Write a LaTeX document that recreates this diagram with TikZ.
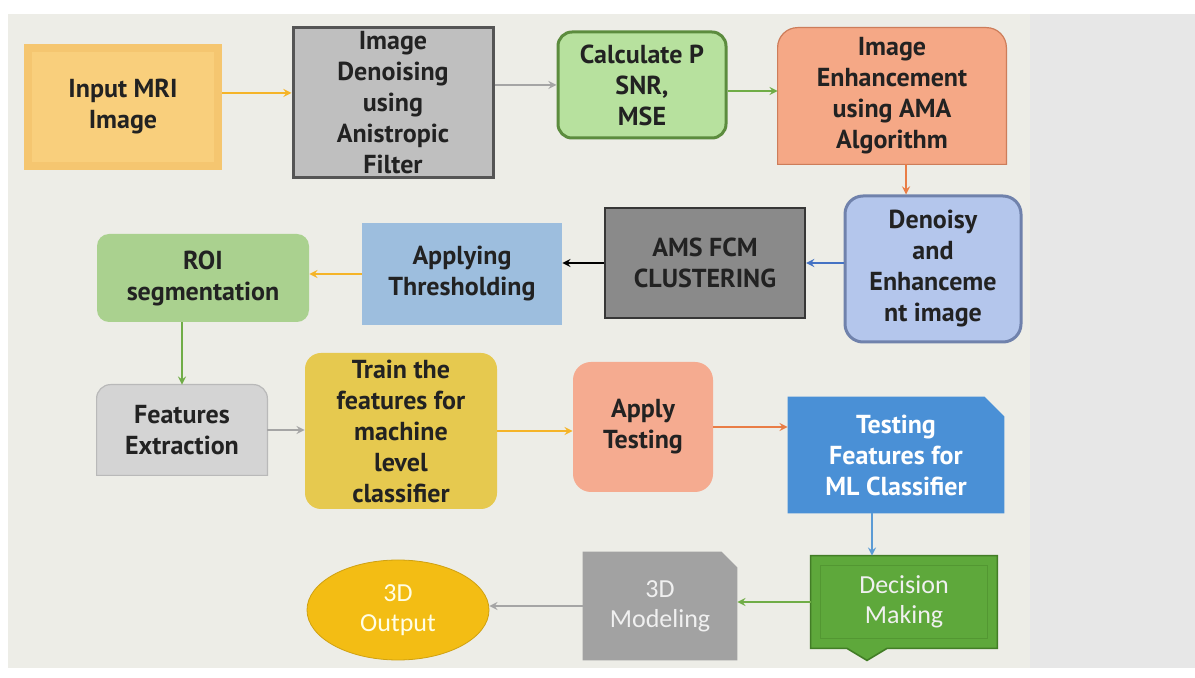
\documentclass[tikz,border=0pt]{standalone}
\usepackage{fontspec}
\setmainfont{PT Sans}
\newfontfamily\calfont{Carlito}
\usetikzlibrary{shapes.geometric,backgrounds}

\definecolor{panelbg}{RGB}{237,237,231}
\definecolor{sidebg}{RGB}{231,231,231}
\definecolor{txt}{RGB}{34,34,34}
\definecolor{inpfill}{RGB}{249,207,124}
\definecolor{inpedge}{RGB}{245,198,112}
\definecolor{denfill}{RGB}{191,191,191}
\definecolor{denline}{RGB}{85,85,85}
\definecolor{calcfill}{RGB}{183,225,158}
\definecolor{calcline}{RGB}{92,140,62}
\definecolor{enhfill}{RGB}{245,168,134}
\definecolor{enhline}{RGB}{205,125,90}
\definecolor{dnsfill}{RGB}{180,198,236}
\definecolor{dnsline}{RGB}{112,130,172}
\definecolor{amsfill}{RGB}{138,138,138}
\definecolor{amsline}{RGB}{55,55,55}
\definecolor{thrfill}{RGB}{157,190,222}
\definecolor{roifill}{RGB}{170,209,143}
\definecolor{feafill}{RGB}{212,212,212}
\definecolor{fealine}{RGB}{185,185,185}
\definecolor{trnfill}{RGB}{230,201,79}
\definecolor{appfill}{RGB}{245,171,144}
\definecolor{tstfill}{RGB}{74,144,214}
\definecolor{decfill}{RGB}{94,168,59}
\definecolor{decline}{RGB}{66,125,38}
\definecolor{mdlfill}{RGB}{162,162,162}
\definecolor{outfill}{RGB}{243,189,20}
\definecolor{arrorange}{RGB}{245,180,40}
\definecolor{arrgray}{RGB}{165,165,165}
\definecolor{arrgreen}{RGB}{112,173,71}
\definecolor{arrsalmon}{RGB}{233,125,70}
\definecolor{arrblue}{RGB}{68,114,196}
\definecolor{arrlblue}{RGB}{91,155,213}

\begin{document}
\begin{tikzpicture}[x=0.5pt,y=-0.5pt,
  box/.style={align=center,inner sep=0pt,text=txt,
    font=\bfseries\fontsize{13}{15.5}\selectfont},
  wbox/.style={align=center,inner sep=0pt,text=white!94!black,
    font=\calfont\fontsize{13}{15}\selectfont}]
  \useasboundingbox (0,0) rectangle (1195,678);
  \begin{scope}[on background layer]
    \fill[panelbg] (8,14) rectangle (1030,668);
    \fill[sidebg] (1030,14) rectangle (1195,668);
  \end{scope}

  % first row
  \node[box,minimum width=99pt,minimum height=63pt] (inp) at (123,107) {Input MRI\\Image};
  \node[box,fill=denfill,draw=denline,line width=1.5pt,minimum width=100pt,minimum height=75pt] (den) at (393,103)
    {Image\\Denoising\\using\\Anistropic\\Filter};
  \node[box,fill=calcfill,draw=calcline,line width=1.5pt,rounded corners=7pt,minimum width=84pt,minimum height=53pt] (calc) at (642,85)
    {Calculate P\\SNR,\\MSE};
  \node[box,minimum width=114pt,minimum height=68pt] (enh) at (892,96)
    {Image\\Enhancement\\using AMA\\Algorithm};

  % second row
  \node[box,fill=dnsfill,draw=dnsline,line width=1.5pt,rounded corners=9pt,minimum width=88pt,minimum height=73pt] (dns) at (933,269)
    {Denoisy\\and\\Enhanceme\\nt image};
  \node[box,fill=amsfill,draw=amsline,line width=1.2pt,minimum width=100pt,minimum height=55pt] (ams) at (705,263)
    {AMS FCM\\CLUSTERING};
  \node[box,fill=thrfill,minimum width=100pt,minimum height=51pt] (thr) at (462,274) {Applying\\Thresholding};
  \node[box,fill=roifill,rounded corners=6pt,minimum width=106pt,minimum height=44pt] (roi) at (203,278) {ROI\\segmentation};

  % third row
  \node[box,minimum width=85pt,minimum height=45pt] (fea) at (182,430) {Features\\Extraction};
  \node[box,fill=trnfill,rounded corners=8pt,minimum width=96pt,minimum height=78pt] (trn) at (401,431)
    {Train the\\features for\\machine\\level\\classifier};
  \node[box,fill=appfill,rounded corners=9pt,minimum width=70pt,minimum height=65pt] (app) at (643,427) {Apply\\Testing};
  \node[box,text=white,minimum width=108pt,minimum height=58pt] (tst) at (896,455)
    {Testing\\Features for\\ML Classifier};

  % last row
  \node[wbox,minimum width=93pt,minimum height=46pt] (dec) at (904,602) {Decision\\Making};
  \node[wbox,minimum width=77pt,minimum height=54pt] (mdl) at (660,606) {3D\\Modeling};
  \node[wbox,ellipse,fill=outfill,draw=outfill!85!black,line width=0.4pt,minimum width=91pt,minimum height=50pt,text=white!90!yellow] (out) at (398,610)
    {3D\\Output};

  \begin{scope}[on background layer]
    \fill[inpedge] (inp.south west) rectangle (inp.north east);
    \fill[inpfill] ([shift={(4pt,4pt)}]inp.south west) rectangle ([shift={(-4pt,-4pt)}]inp.north east);
    \filldraw[enhfill,draw=enhline,line width=0.6pt] (enh.south west) -- ([yshift=-10pt]enh.north west)
      arc[start angle=180,end angle=90,radius=10pt] -- ([xshift=-10pt]enh.north east)
      arc[start angle=90,end angle=0,radius=10pt] -- (enh.south east) -- cycle;
    \filldraw[feafill,draw=fealine,line width=0.6pt] (fea.south west) -- ([yshift=-7pt]fea.north west)
      arc[start angle=180,end angle=90,radius=7pt] -- ([xshift=-7pt]fea.north east)
      arc[start angle=90,end angle=0,radius=7pt] -- (fea.south east) -- cycle;
    \fill[tstfill] (tst.south west) -- (tst.north west) -- ([xshift=-10pt]tst.north east)
      -- ([yshift=-10pt]tst.north east) -- (tst.south east) -- cycle;
    \fill[mdlfill] (mdl.south west) -- (mdl.north west) -- ([xshift=-8pt]mdl.north east)
      -- ([yshift=-8pt]mdl.north east) -- (mdl.south east) -- cycle;
    \filldraw[decfill,draw=decline,line width=0.8pt] (dec.north west) -- (dec.north east) -- (dec.south east)
      -- ([xshift=-8.5pt]dec.south) -- ([xshift=-18.5pt,yshift=-6pt]dec.south)
      -- ([xshift=-28.5pt]dec.south) -- (dec.south west) -- cycle;
    \draw[decline!40!decfill,line width=0.5pt] ([shift={(5pt,5pt)}]dec.south west) rectangle ([shift={(-5pt,-5pt)}]dec.north east);
  \end{scope}

  \path[-stealth,line width=0.8pt]
    ([yshift=7pt]inp.east) edge[draw=arrorange] ([yshift=7pt]inp.east -| den.west)
    (den.east |- calc.west) edge[draw=arrgray] (calc.west)
    ([yshift=-3pt]calc.east) edge[draw=arrgreen] ([yshift=-3pt]calc.east -| enh.west)
    ([xshift=7pt]enh.south) edge[draw=arrsalmon] ([xshift=7pt]enh.south |- dns.north)
    (dns.west |- ams.east) edge[draw=arrblue] (ams.east)
    (ams.west) edge[draw=black] (ams.west -| thr.east)
    (thr.west) edge[draw=arrorange] (thr.west -| roi.east)
    (roi.south -| fea.north) edge[draw=arrgreen] (fea.north)
    (fea.east) edge[draw=arrgray] (fea.east -| trn.west)
    (trn.east) edge[draw=arrorange] (trn.east -| app.west)
    (app.east) edge[draw=arrsalmon] (app.east -| tst.west)
    ([xshift=-12pt]tst.south) edge[draw=arrlblue] ([xshift=-12pt]tst.south |- dec.north)
    (dec.west) edge[draw=arrgreen] (dec.west -| mdl.east)
    (mdl.west) edge[draw=arrgray] (mdl.west -| out.east);
\end{tikzpicture}
\end{document}
